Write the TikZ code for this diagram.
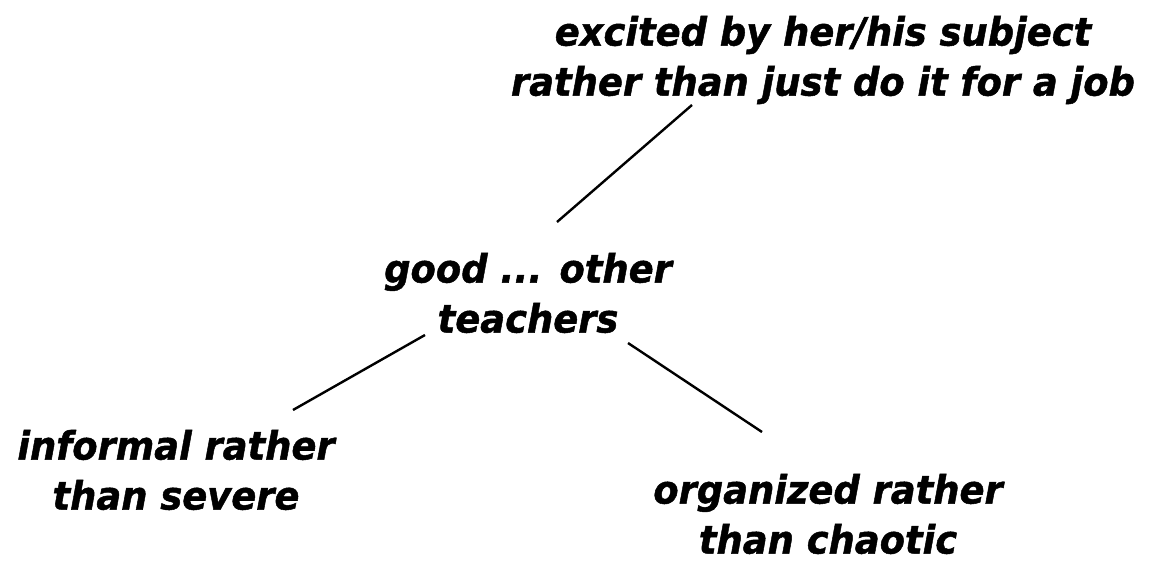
\documentclass[tikz,border=0pt]{standalone}
\usepackage{fontspec}
\setmainfont{DejaVu Sans}
\newfontfamily\lblfont[FakeStretch=0.945,FakeBold=1.2]{DejaVu Sans}
\usetikzlibrary{calc}
\begin{document}
\begin{tikzpicture}[x=1pt,y=1pt,
  lbl/.style={align=center,font=\lblfont\fontsize{39}{50}\selectfont\bfseries\itshape,inner sep=0pt},
  conn/.style={line width=2.4pt}]
\useasboundingbox (0,0) rectangle (1149,562);
\node[lbl] (t) at (823,502) {excited by her/his subject\\rather than just do it for a job};
\node[lbl] (c) at (528,269) {good ... other\\teachers};
\node[lbl] (bl) at (176,92) {informal rather\\than severe};
\node[lbl] (br) at (828,48) {organized rather\\than chaotic};
\draw[conn] ($(c)+(29,71)$) -- ($(t)+(-131,-45)$);
\draw[conn] ($(c)+(-103,-42)$) -- ($(bl)+(117,60)$);
\draw[conn] ($(c)+(100,-50)$) -- ($(br)+(-66,82)$);
\end{tikzpicture}
\end{document}
